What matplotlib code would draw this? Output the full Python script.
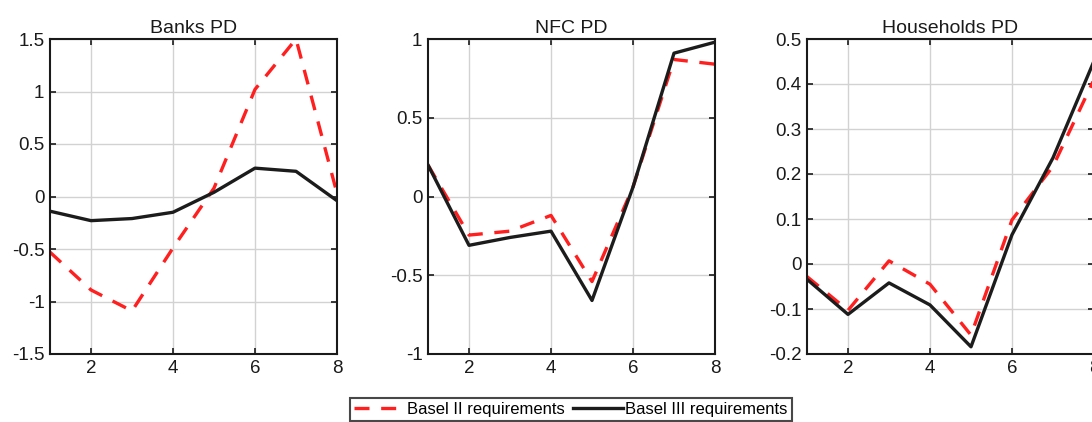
import matplotlib
matplotlib.use('Agg')
import matplotlib.pyplot as plt
from matplotlib.ticker import FuncFormatter

plt.rcParams['font.family'] = ['Liberation Sans', 'DejaVu Sans']
plt.rcParams['axes.unicode_minus'] = False

horizons = [1, 2, 3, 4, 5, 6, 7, 8]

titles = ['Banks PD', 'NFC PD', 'Households PD']

basel2_banks = [-0.53, -0.89, -1.09, -0.49, 0.08, 1.02, 1.50, 0.03]
basel3_banks = [-0.14, -0.23, -0.21, -0.15, 0.04, 0.27, 0.24, -0.04]

basel2_nfc = [0.20, -0.245, -0.22, -0.12, -0.54, 0.06, 0.87, 0.84]
basel3_nfc = [0.20, -0.31, -0.26, -0.22, -0.66, 0.06, 0.91, 0.98]

basel2_hh = [-0.028, -0.103, 0.007, -0.045, -0.158, 0.098, 0.217, 0.41]
basel3_hh = [-0.034, -0.112, -0.042, -0.091, -0.184, 0.065, 0.236, 0.451]

y_limits = [(-1.5, 1.5), (-1, 1), (-0.2, 0.5)]
y_ticks = [[-1.5, -1, -0.5, 0, 0.5, 1, 1.5],
           [-1, -0.5, 0, 0.5, 1],
           [-0.2, -0.1, 0, 0.1, 0.2, 0.3, 0.4, 0.5]]

RED = '#ff1f1f'
BLACK = '#1c1c1c'

fig = plt.figure(figsize=(10.92, 4.22), dpi=100)

lefts = [50 / 1092, 428 / 1092, 807 / 1092]
width = 287 / 1092
bottom = 1 - 354 / 422
height = 315 / 422

series = [(basel2_banks, basel3_banks), (basel2_nfc, basel3_nfc), (basel2_hh, basel3_hh)]

handles = None
for i, (b2, b3) in enumerate(series):
    ax = fig.add_axes([lefts[i], bottom, width, height])
    h2, = ax.plot(horizons, b2, color=RED, linewidth=2.4, linestyle=(0, (4.5, 3.5)),
                  label='Basel II requirements')
    h3, = ax.plot(horizons, b3, color=BLACK, linewidth=2.4, label='Basel III requirements')
    handles = [h2, h3]

    ax.set_xlim(1, 8)
    ax.set_ylim(*y_limits[i])
    ax.set_xticks([2, 4, 6, 8])
    ax.set_yticks(y_ticks[i])
    ax.yaxis.set_major_formatter(FuncFormatter(lambda v, p: '%g' % round(v, 2)))
    ax.grid(True, color='#d2d2d2', linewidth=1)
    ax.set_axisbelow(True)
    ax.tick_params(direction='in', top=True, right=True, length=4, width=1.2,
                   labelsize=13.5, colors='#1a1a1a', pad=4)
    for s in ax.spines.values():
        s.set_linewidth(1.5)
        s.set_color('#1a1a1a')
    ax.set_title(titles[i], fontsize=14, pad=4, color='#1a1a1a')

leg = fig.legend(handles=handles, loc='upper center', bbox_to_anchor=(571 / 1092, 1 - 398 / 422),
                 ncol=2, fontsize=12, frameon=True, fancybox=False, handlelength=3.0,
                 handletextpad=0.15, columnspacing=0.5, borderpad=0.25, borderaxespad=0)
leg.get_frame().set_edgecolor('#1a1a1a')
leg.get_frame().set_linewidth(1.5)

fig.savefig('out.png', dpi=100)
